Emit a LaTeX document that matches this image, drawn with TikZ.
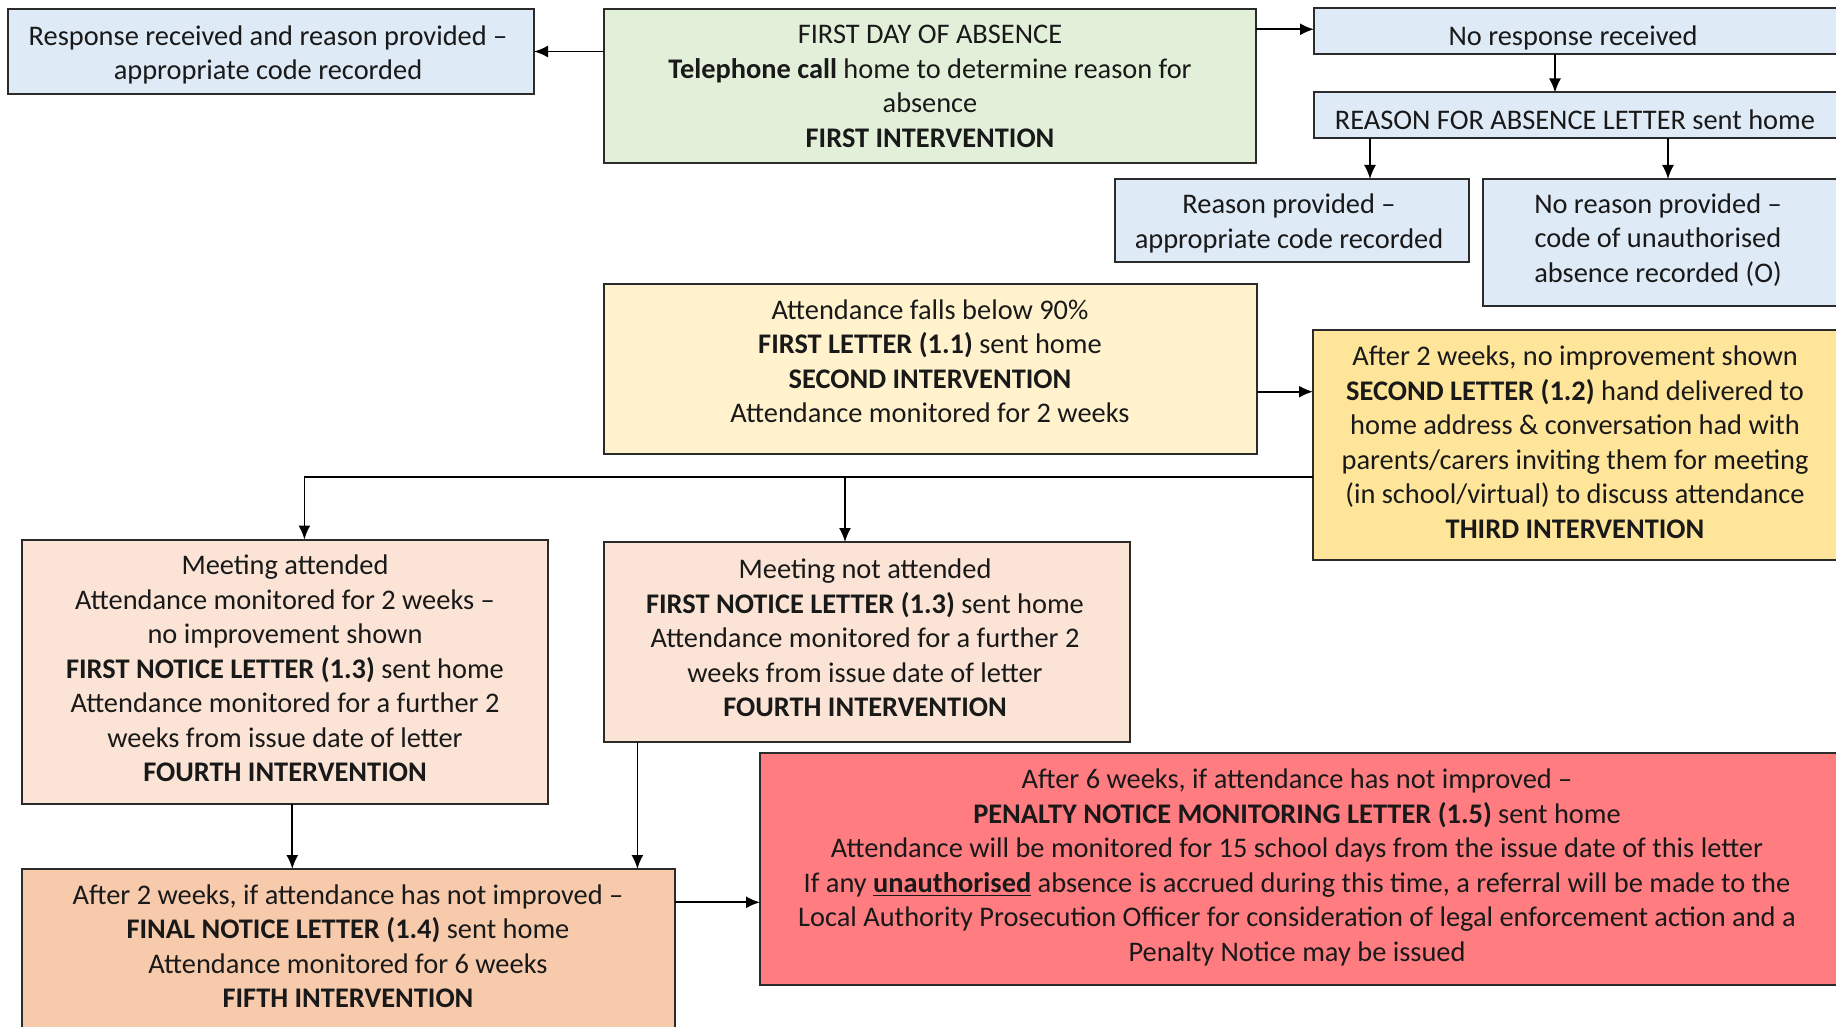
\documentclass[tikz,border=0pt]{standalone}
\usepackage{fontspec}
\setmainfont{Carlito}
\usetikzlibrary{arrows.meta}
\definecolor{cblue}{HTML}{DEEAF6}
\definecolor{cgreen}{HTML}{E2EFD9}
\definecolor{cyel}{HTML}{FFF2CC}
\definecolor{cgold}{HTML}{FFE599}
\definecolor{cpeach}{HTML}{FBE4D5}
\definecolor{corange}{HTML}{F7CAAC}
\definecolor{cred}{HTML}{FF7C80}
\definecolor{cline}{HTML}{2B2B2B}
\tikzset{
  boxnode/.style={draw=cline, line width=1pt, anchor=north west, inner sep=0pt, outer sep=0pt},
  txt/.style={align=center, inner sep=0pt, font=\fontsize{14.2pt}{17.25pt}\selectfont, text=black!90},
  arr/.style={line width=0.9pt, draw=black, -{Latex[length=7pt,width=6pt]}},
  ln/.style={line width=0.9pt, draw=black}
}
\begin{document}
\begin{tikzpicture}[x=0.5pt,y=-0.5pt]
\useasboundingbox (0,0) rectangle (1836,1027);
\begin{scope}
\clip (0,0) rectangle (1836,1027);
% boxes
\node[boxnode, fill=cblue, minimum width=263pt, minimum height=42.5pt] (A) at (8,9) {};
\node[boxnode, fill=cgreen, minimum width=326pt, minimum height=77pt] (B) at (604,9) {};
\node[boxnode, fill=cblue, minimum width=270pt, minimum height=23pt] (C) at (1314,8.5) {};
\node[boxnode, fill=cblue, minimum width=270pt, minimum height=22.7pt] (D) at (1314,92.5) {};
\node[boxnode, fill=cblue, minimum width=177pt, minimum height=41.7pt] (E) at (1115,179) {};
\node[boxnode, fill=cblue, minimum width=185pt, minimum height=63.5pt] (F) at (1483,179) {};
\node[boxnode, fill=cyel, minimum width=326.5pt, minimum height=85pt] (G) at (604,284) {};
\node[boxnode, fill=cgold, minimum width=270pt, minimum height=115pt] (H) at (1313,330) {};
\node[boxnode, fill=cpeach, minimum width=263pt, minimum height=132pt] (I) at (22,539.5) {};
\node[boxnode, fill=cpeach, minimum width=263pt, minimum height=100pt] (J) at (604,542) {};
\node[boxnode, fill=corange, minimum width=326.5pt, minimum height=95pt] (K) at (22,869) {};
\node[boxnode, fill=cred, minimum width=550pt, minimum height=115.8pt] (L) at (760,753) {};
% texts
\node[txt] (At) at (268,55) {Response received and reason provided –\\appropriate code recorded};
\node[txt] (Bt) at (930,86.5) {FIRST DAY OF ABSENCE\\\textbf{Telephone call} home to determine reason for\\absence\\\textbf{FIRST INTERVENTION}};
\node[txt] (Ct) at (1573,37.5) {No response received};
\node[txt] (Dt) at (1575,120) {REASON FOR ABSENCE LETTER sent home};
\node[txt] (Et) at (1289,223.5) {Reason provided –\\appropriate code recorded};
\node[txt] (Ft) at (1658,240) {No reason provided –\\code of unauthorised\\absence recorded (O)};
\node[txt] (Gt) at (930,361) {Attendance falls below 90\%\\\textbf{FIRST LETTER (1.1)} sent home\\\textbf{SECOND INTERVENTION}\\Attendance monitored for 2 weeks};
\node[txt] (Ht) at (1575,442) {After 2 weeks, no improvement shown\\\textbf{SECOND LETTER (1.2)} hand delivered to\\home address \& conversation had with\\parents/carers inviting them for meeting\\(in school/virtual) to discuss attendance\\\textbf{THIRD INTERVENTION}};
\node[txt] (It) at (285,668.5) {Meeting attended\\Attendance monitored for 2 weeks –\\no improvement shown\\\textbf{FIRST NOTICE LETTER (1.3)} sent home\\Attendance monitored for a further 2\\weeks from issue date of letter\\\textbf{FOURTH INTERVENTION}};
\node[txt] (Jt) at (865,638) {Meeting not attended\\\textbf{FIRST NOTICE LETTER (1.3)} sent home\\Attendance monitored for a further 2\\weeks from issue date of letter\\\textbf{FOURTH INTERVENTION}};
\node[txt] (Kt) at (348,946) {After 2 weeks, if attendance has not improved –\\\textbf{FINAL NOTICE LETTER (1.4)} sent home\\Attendance monitored for 6 weeks\\\textbf{FIFTH INTERVENTION}};
\node[txt] (Lt) at (1297,867.5) {After 6 weeks, if attendance has not improved –\\\textbf{PENALTY NOTICE MONITORING LETTER (1.5)} sent home\\Attendance will be monitored for 15 school days from the issue date of this letter\\If any \underline{\textbf{unauthorised}} absence is accrued during this time, a referral will be made to the\\Local Authority Prosecution Officer for consideration of legal enforcement action and a\\Penalty Notice may be issued};
% connector coordinates
\coordinate (yBC) at (0,29.3);
\coordinate (xCD) at (1555,0);
\coordinate (xDE) at (1370,0);
\coordinate (xDF) at (1668,0);
\coordinate (yGH) at (0,391.7);
\coordinate (hb) at (1313,476.7);
\coordinate (xI) at (304.4,0);
\coordinate (jn) at (845,476.7);
\coordinate (xIK) at (292.3,0);
\coordinate (xJK) at (637.4,0);
\coordinate (yKL) at (0,902.3);
% connectors
\draw[arr] (B.west |- A.east) -- (A.east);
\draw[arr] (B.east |- yBC) -- (C.west |- yBC);
\draw[arr] (C.south -| xCD) -- (D.north -| xCD);
\draw[arr] (D.south -| xDE) -- (E.north -| xDE);
\draw[arr] (D.south -| xDF) -- (F.north -| xDF);
\draw[arr] (G.east |- yGH) -- (H.west |- yGH);
\draw[arr] (H.west |- hb) -| (I.north -| xI);
\draw[arr] (jn) -- (J.north -| jn);
\draw[arr] (I.south -| xIK) -- (K.north -| xIK);
\draw[arr] (J.south -| xJK) -- (K.north -| xJK);
\draw[arr] (K.east |- yKL) -- (L.west |- yKL);
\end{scope}
\end{tikzpicture}
\end{document}
